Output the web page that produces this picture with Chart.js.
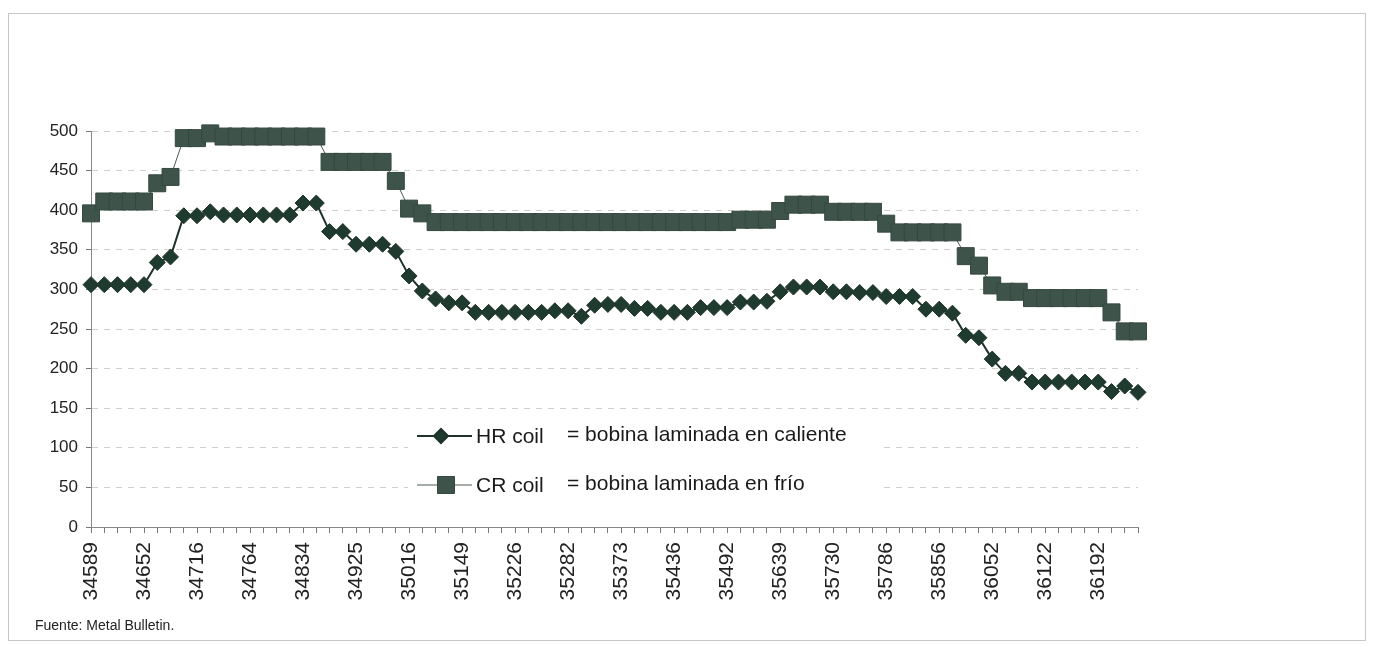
<!DOCTYPE html>
<html>
<head>
<meta charset="utf-8">
<script src="https://cdn.jsdelivr.net/npm/chart.js@4.4.1/dist/chart.umd.min.js"></script>
<style>
html, body { margin: 0; padding: 0; background: #fff; }
#wrap { position: relative; width: 1373px; height: 647px; overflow: hidden; }
#frame { position: absolute; left: 8px; top: 13px; width: 1356px; height: 626px; border: 1px solid #c6c6c6; }
#src { position: absolute; left: 35px; top: 617px; font: 14px 'Liberation Sans', Arial, sans-serif; color: #222; }
canvas { position: absolute; left: 0; top: 0; }
</style>
</head>
<body>
<div id="wrap">
	<div id="frame"></div>
	<canvas id="myChart" width="1373" height="647"></canvas>
	<div id="src">Fuente: Metal Bulletin.</div>
</div>
<script>
// shown x labels (every 4th point)
const tickLabels = ["34589", "34652", "34716", "34764", "34834", "34925", "35016", "35149", "35226", "35282",
	"35373", "35436", "35492", "35639", "35730", "35786", "35856", "36052", "36122", "36192"];

// HR coil = bobina laminada en caliente
const hrCoil = [306, 306, 306, 306, 306, 334, 341, 393, 393, 398,
	394, 394, 394, 394, 394, 394, 409, 409, 373, 373,
	357, 357, 357, 348, 317, 298, 288, 283, 283, 271,
	271, 271, 271, 271, 271, 273, 273, 266, 280, 281,
	281, 276, 276, 271, 271, 271, 277, 277, 277, 284,
	284, 285, 297, 303, 303, 303, 297, 297, 296, 296,
	291, 291, 291, 275, 275, 270, 242, 239, 212, 194,
	194, 183, 183, 183, 183, 183, 183, 171, 178, 170];

// CR coil = bobina laminada en frío
const crCoil = [396, 411, 411, 411, 411, 434, 442, 491, 491, 497,
	493, 493, 493, 493, 493, 493, 493, 493, 461, 461,
	461, 461, 461, 437, 402, 396, 385, 385, 385, 385,
	385, 385, 385, 385, 385, 385, 385, 385, 385, 385,
	385, 385, 385, 385, 385, 385, 385, 385, 385, 388,
	388, 388, 399, 407, 407, 407, 398, 398, 398, 398,
	383, 372, 372, 372, 372, 372, 342, 330, 305, 297,
	297, 289, 289, 289, 289, 289, 289, 271, 247, 247];

const labels = hrCoil.map((v, i) => i % 4 === 0 ? tickLabels[i / 4] : '');

const FONT = "'Liberation Sans', Arial, sans-serif";
const ctx = document.getElementById('myChart');

// legend drawn inside the plot, like the original
const legendBox = {
	id: 'legendBox',
	afterDraw(chart) {
		const c = chart.ctx;
		c.save();
		c.fillStyle = '#fff';
		c.fillRect(408, 416, 472, 86);
		const rows = [
			{ y: 436, ds: 0, mx: 441, name: 'HR coil', desc: '= bobina laminada en caliente' },
			{ y: 485, ds: 1, mx: 446, name: 'CR coil', desc: '= bobina laminada en frío' }
		];
		rows.forEach(r => {
			const ds = chart.data.datasets[r.ds];
			c.strokeStyle = ds.borderColor;
			c.lineWidth = ds.borderWidth;
			c.beginPath();
			c.moveTo(417, r.y);
			c.lineTo(472, r.y);
			c.stroke();
			c.fillStyle = ds.pointBackgroundColor;
			c.strokeStyle = ds.pointBorderColor;
			Chart.helpers.drawPoint(c, { pointStyle: ds.pointStyle, radius: ds.legendRadius, borderWidth: 1, rotation: 0 }, r.mx, r.y);
			c.fillStyle = '#1a1a1a';
			c.font = '21px ' + FONT;
			c.textBaseline = 'middle';
			c.fillText(r.name, 476, r.y + 1);
			c.fillText(r.desc, 567, r.y - 1);
		});
		c.restore();
	}
};

new Chart(ctx, {
	type: 'line',
	data: {
		labels: labels,
		datasets: [
			{
				label: 'HR coil',
				data: hrCoil,
				clip: false,
				borderColor: '#1d3329',
				borderWidth: 2,
				pointStyle: 'rectRot',
				pointRadius: 8,
				legendRadius: 7,
				pointBackgroundColor: '#1f3a2f',
				pointBorderColor: '#1d3329',
				pointBorderWidth: 1
			},
			{
				label: 'CR coil',
				data: crCoil,
				clip: false,
				borderColor: '#4a5a53',
				borderWidth: 1,
				pointStyle: 'rect',
				pointRadius: 12,
				legendRadius: 12,
				pointBackgroundColor: '#3e544a',
				pointBorderColor: '#34483f',
				pointBorderWidth: 1
			}
		]
	},
	options: {
		responsive: false,
		animation: false,
		devicePixelRatio: 1,
		layout: { padding: { left: 0, right: 235, top: 131, bottom: 0 } },
		plugins: {
			legend: { display: false },
			tooltip: { enabled: false }
		},
		scales: {
			x: {
				afterFit: (s) => { s.height = 120; },
				grid: {
					drawOnChartArea: false,
					tickLength: 6,
					tickColor: '#777'
				},
				border: { color: '#888' },
				ticks: {
					autoSkip: false,
					maxRotation: 90,
					minRotation: 90,
					padding: 9,
					color: '#222',
					font: { family: FONT, size: 21 }
				}
			},
			y: {
				min: 0,
				max: 500,
				afterFit: (s) => { s.width = 91; },
				grid: {
					color: '#cfcfcf',
					tickColor: '#777',
					tickLength: 5
				},
				border: { color: '#888', dash: [6, 6] },
				ticks: {
					stepSize: 50,
					padding: 8,
					color: '#222',
					font: { family: FONT, size: 17 }
				}
			}
		}
	},
	plugins: [legendBox]
});
</script>
</body>
</html>
